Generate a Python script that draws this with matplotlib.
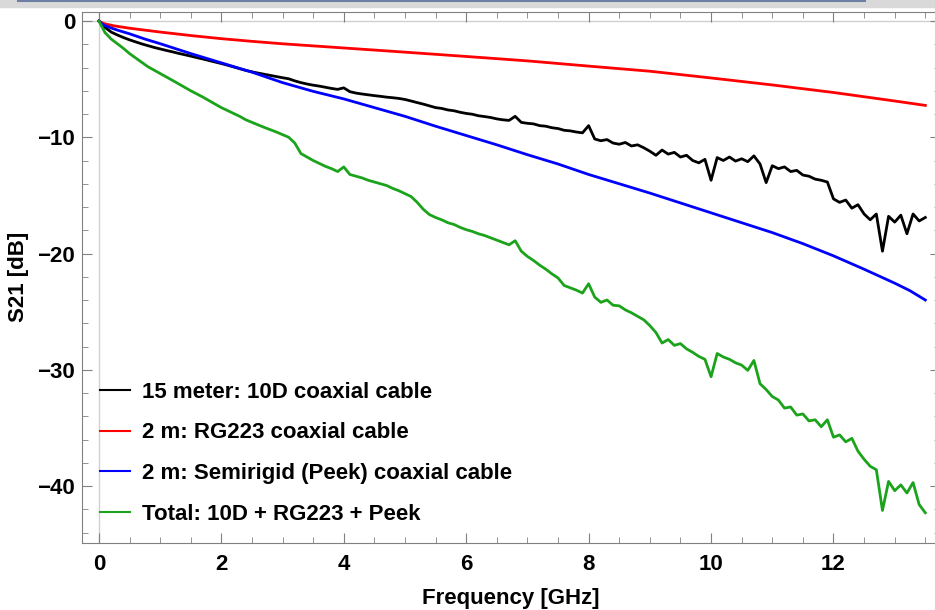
import numpy as np
import matplotlib.pyplot as plt
from matplotlib.ticker import MultipleLocator
from matplotlib.patches import Rectangle
from matplotlib.lines import Line2D

plt.rcParams['font.family'] = ['Liberation Sans', 'DejaVu Sans']
plt.rcParams['font.weight'] = 'bold'

# measured traces, 0.1 GHz grid for the two noisy ones
freq = np.round(np.arange(0, 13.51, 0.1), 2)

s21_10d = [0, -0.55, -0.95, -1.2, -1.42, -1.62, -1.8, -1.97, -2.12, -2.27,
           -2.4, -2.53, -2.65, -2.78, -2.9, -3.02, -3.15, -3.27, -3.4, -3.53,
           -3.66, -3.8, -3.95, -4.1, -4.25, -4.37, -4.48, -4.58, -4.68, -4.78,
           -4.88, -4.97, -5.15, -5.3, -5.42, -5.52, -5.6, -5.7, -5.8, -5.88,
           -5.75, -6.08, -6.2, -6.28, -6.35, -6.42, -6.48, -6.55, -6.6, -6.66,
           -6.75, -6.88, -7.02, -7.15, -7.3, -7.45, -7.52, -7.65, -7.72, -7.85,
           -7.95, -8.02, -8.15, -8.22, -8.3, -8.42, -8.5, -8.55, -8.2, -8.72,
           -8.8, -8.85, -9.0, -9.05, -9.18, -9.25, -9.4, -9.45, -9.55, -9.62,
           -9.0, -10.15, -10.3, -10.2, -10.5, -10.6, -10.45, -10.75, -10.65, -10.9,
           -11.2, -11.55, -11.1, -11.45, -11.3, -11.7, -11.55, -12.0, -12.2, -11.9,
           -13.7, -11.75, -12.0, -11.7, -12.05, -11.85, -12.1, -11.6, -12.3, -13.9,
           -12.45, -12.7, -12.55, -12.95, -12.85, -13.25, -13.35, -13.6, -13.7, -13.85,
           -15.3, -15.6, -15.4, -16.1, -15.8, -16.6, -17.1, -16.6, -19.8, -16.8,
           -17.3, -16.7, -18.3, -16.6, -17.2, -16.9]

s21_total = [0, -1.0, -1.55, -1.95, -2.35, -2.8, -3.18, -3.55, -3.93, -4.22,
             -4.5, -4.8, -5.1, -5.4, -5.7, -6.0, -6.27, -6.55, -6.85, -7.15,
             -7.45, -7.7, -7.95, -8.2, -8.5, -8.72, -8.95, -9.15, -9.35, -9.55,
             -9.78, -10.0, -10.5, -11.4, -11.7, -12.0, -12.25, -12.5, -12.7, -12.95,
             -12.55, -13.2, -13.35, -13.5, -13.7, -13.85, -14.0, -14.15, -14.4, -14.6,
             -14.85, -15.1, -15.6, -16.2, -16.65, -16.9, -17.1, -17.35, -17.5, -17.75,
             -17.95, -18.1, -18.3, -18.45, -18.65, -18.85, -19.05, -19.25, -18.9, -19.8,
             -20.25, -20.6, -21.0, -21.35, -21.75, -22.1, -22.75, -22.95, -23.15, -23.4,
             -22.6, -23.75, -24.2, -24.0, -24.45, -24.5, -24.85, -25.1, -25.4, -25.7,
             -26.2, -26.8, -27.7, -27.4, -27.9, -27.75, -28.2, -28.5, -28.85, -29.1,
             -30.6, -28.6, -28.9, -29.1, -29.4, -29.6, -30.05, -29.2, -31.2, -31.7,
             -32.3, -32.6, -33.3, -33.2, -33.9, -33.8, -34.4, -34.3, -34.9, -34.3,
             -35.8, -35.6, -36.2, -35.9, -37.0, -37.7, -38.3, -38.6, -42.1, -39.6,
             -40.4, -39.9, -40.6, -39.7, -41.6, -42.3]

# smooth traces
freq_rg = [0, 0.05, 0.1, 0.25, 0.5, 1, 1.5, 2, 2.5, 3, 3.5, 4, 5, 6, 7, 8, 9, 10, 11, 12, 13, 13.5]
s21_rg = [0, -0.15, -0.25, -0.42, -0.62, -0.95, -1.25, -1.52, -1.75, -1.96, -2.14, -2.32,
          -2.68, -3.05, -3.43, -3.88, -4.32, -4.9, -5.5, -6.15, -6.88, -7.26]

freq_pk = [0, 0.05, 0.1, 0.2, 0.3, 0.5, 0.75, 1.0, 1.5, 2.0, 2.5, 3.0, 3.5, 4.0, 4.5,
           5.0, 5.5, 6.0, 6.5, 7.0, 7.5, 8.0, 8.5, 9.0, 9.5, 10.0, 10.5, 11.0, 11.5,
           12.0, 12.5, 13.0, 13.25, 13.5]
s21_pk = [0, -0.25, -0.4, -0.6, -0.78, -1.1, -1.55, -1.95, -2.8, -3.6, -4.4, -5.3,
          -6.05, -6.7, -7.45, -8.2, -9.05, -9.85, -10.65, -11.5, -12.3, -13.2, -14.0,
          -14.8, -15.65, -16.5, -17.35, -18.2, -19.15, -20.2, -21.35, -22.55, -23.2, -24.0]

labels = ['15 meter: 10D coaxial cable', '2 m: RG223 coaxial cable',
          '2 m: Semirigid (Peek) coaxial cable', 'Total: 10D + RG223 + Peek']
colors = ['black', '#ff0000', '#0000ff', '#1ca31c']

fig = plt.figure(figsize=(9.35, 6.1), dpi=100)
# window strip at the top of the screenshot
fig.patches.append(Rectangle((0, 1 - 7 / 610), 1, 7 / 610, transform=fig.transFigure,
                             color='#d9d9d9', zorder=0))
fig.lines.append(Line2D([18 / 935, 865 / 935], [1 - 1 / 610, 1 - 1 / 610],
                        transform=fig.transFigure, color='#6e7fa6', lw=1.5))

ax = fig.add_axes([82 / 935, 1 - 543 / 610, (940 - 82) / 935, (543 - 11.7) / 610])
ax.axvline(0, color='#d0d0d0', lw=1, zorder=0)
ax.axhline(0, color='#d0d0d0', lw=1, zorder=0)

ax.plot(freq, s21_10d, color=colors[0], lw=2, label=labels[0])
ax.plot(freq_rg, s21_rg, color=colors[1], lw=2, label=labels[1])
ax.plot(freq_pk, s21_pk, color=colors[2], lw=2, label=labels[2])
ax.plot(freq, s21_total, color=colors[3], lw=2, label=labels[3])

ax.set_xlim(-0.276, 13.74)
ax.set_ylim(-44.9, 0.8)
ax.xaxis.set_major_locator(MultipleLocator(2))
ax.xaxis.set_minor_locator(MultipleLocator(0.5))
ax.yaxis.set_major_locator(MultipleLocator(10))
ax.yaxis.set_minor_locator(MultipleLocator(2))
ax.yaxis.set_major_formatter(plt.FuncFormatter(lambda v, p: '%d' % v if v >= 0 else '\u2212%d' % -v))

for s in ax.spines.values():
    s.set_color('#808080')
ax.tick_params(which='both', direction='in', top=True, right=True, color='#808080',
               labelsize=16, labelcolor='black')
ax.tick_params(which='major', length=7)
ax.tick_params(which='minor', length=4)
ax.tick_params(axis='x', pad=8)
ax.tick_params(axis='y', pad=5)

ax.set_xlabel('Frequency [GHz]', fontsize=16, fontweight='bold', labelpad=9)
ax.set_ylabel('S21 [dB]', fontsize=16, fontweight='bold', labelpad=6)

leg = ax.legend(loc='lower left', bbox_to_anchor=(0.021, 0.034), frameon=False,
                fontsize=16, handlelength=1.35, handletextpad=0.54,
                labelspacing=0.89, borderpad=0, borderaxespad=0)
for h in leg.get_lines():
    h.set_linewidth(1.5)

fig.savefig('out.png', dpi=100)
